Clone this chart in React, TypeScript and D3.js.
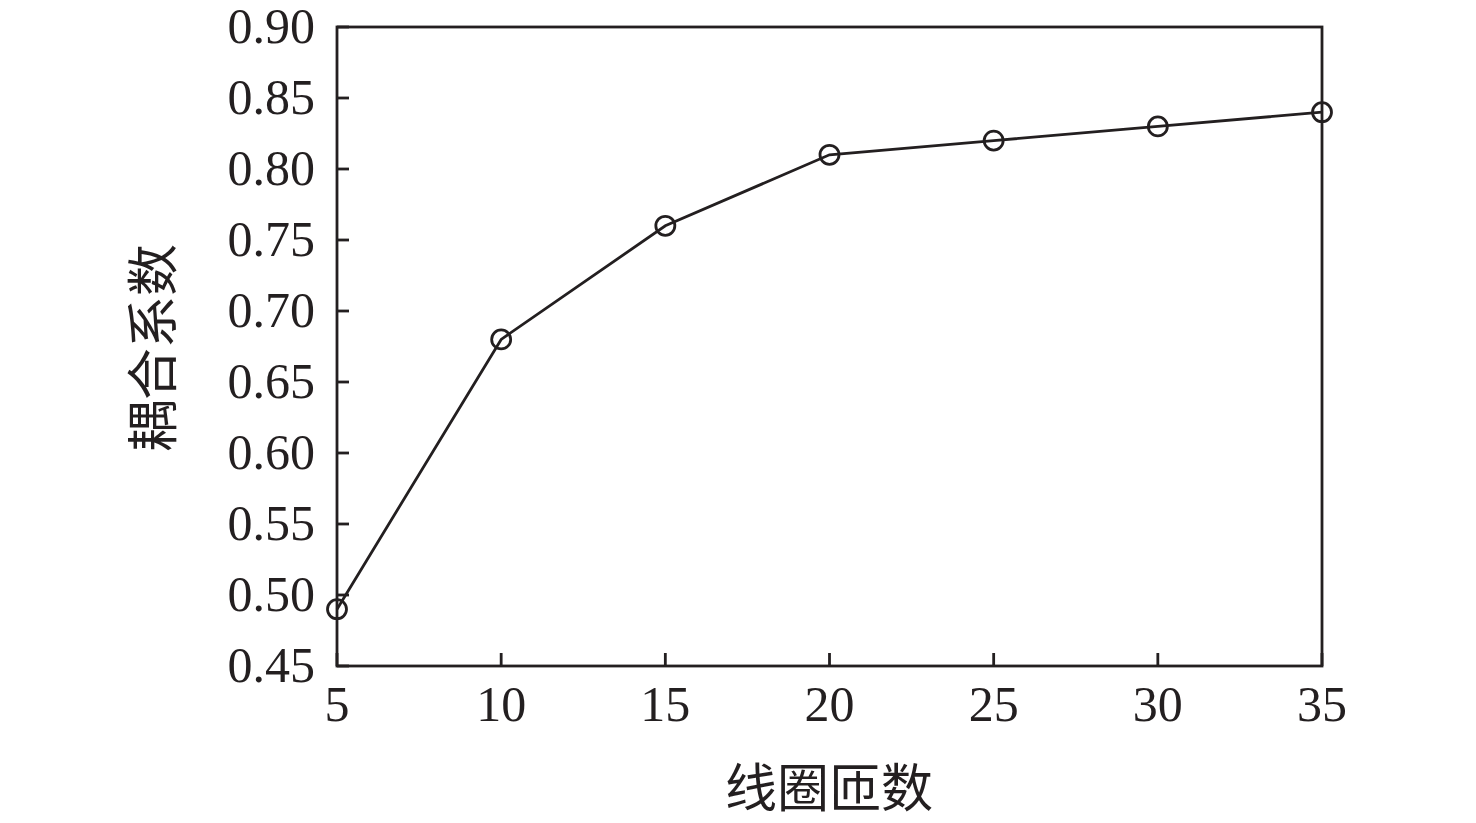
import React from "react";
import * as d3 from "d3";

const turns = [5, 10, 15, 20, 25, 30, 35];
const coupling = [0.49, 0.68, 0.76, 0.81, 0.82, 0.83, 0.84];
const yTicks = [0.45, 0.5, 0.55, 0.6, 0.65, 0.7, 0.75, 0.8, 0.85, 0.9];
const xTicks = [5, 10, 15, 20, 25, 30, 35];
const xTitle = "线圈匝数";
const yTitle = "耦合系数";

export default function App() {
  const W = 1476, H = 823;
  const left = 337, right = 1322, top = 27, bottom = 666;
  const x = d3.scaleLinear().domain([5, 35]).range([left, right]);
  const y = d3.scaleLinear().domain([0.45, 0.9]).range([bottom, top]);
  const line = d3.line<number>().x((_, i) => x(turns[i])).y((d) => y(d));
  const serif = "'Liberation Serif', 'Times New Roman', serif";
  const cjk = "'Noto Sans CJK SC', sans-serif";
  const stroke = "#231f20";
  const sw = 2.8;
  return (
    <svg width={W} height={H} style={{ position: "absolute", left: 0, top: 0, background: "#fff" }}>
      <rect x={0} y={0} width={W} height={H} fill="#fff" />
      <rect x={left} y={top} width={right - left} height={bottom - top} fill="none" stroke={stroke} strokeWidth={sw} />
      {yTicks.map((t) => (
        <g key={"y" + t}>
          <line x1={left} x2={left + 12} y1={y(t)} y2={y(t)} stroke={stroke} strokeWidth={sw} />
          <text x={left - 22} y={y(t) + 16} textAnchor="end" fontFamily={serif} fontSize={50} fill={stroke}>
            {t.toFixed(2)}
          </text>
        </g>
      ))}
      {xTicks.map((t) => (
        <g key={"x" + t}>
          <line x1={x(t)} x2={x(t)} y1={bottom} y2={bottom - 13} stroke={stroke} strokeWidth={sw} />
          <text x={x(t)} y={721} textAnchor="middle" fontFamily={serif} fontSize={50} fill={stroke}>
            {t}
          </text>
        </g>
      ))}
      <path d={line(coupling) || ""} fill="none" stroke={stroke} strokeWidth={sw} />
      {coupling.map((v, i) => (
        <circle key={i} cx={x(turns[i])} cy={y(v)} r={9.5} fill="none" stroke={stroke} strokeWidth={sw} />
      ))}
      <text x={829} y={807} textAnchor="middle" fontFamily={cjk} fontSize={52} fill={stroke}>
        {xTitle}
      </text>
      <text transform="translate(172,348) rotate(-90)" textAnchor="middle" fontFamily={cjk} fontSize={52} fill={stroke}>
        {yTitle}
      </text>
    </svg>
  );
}
